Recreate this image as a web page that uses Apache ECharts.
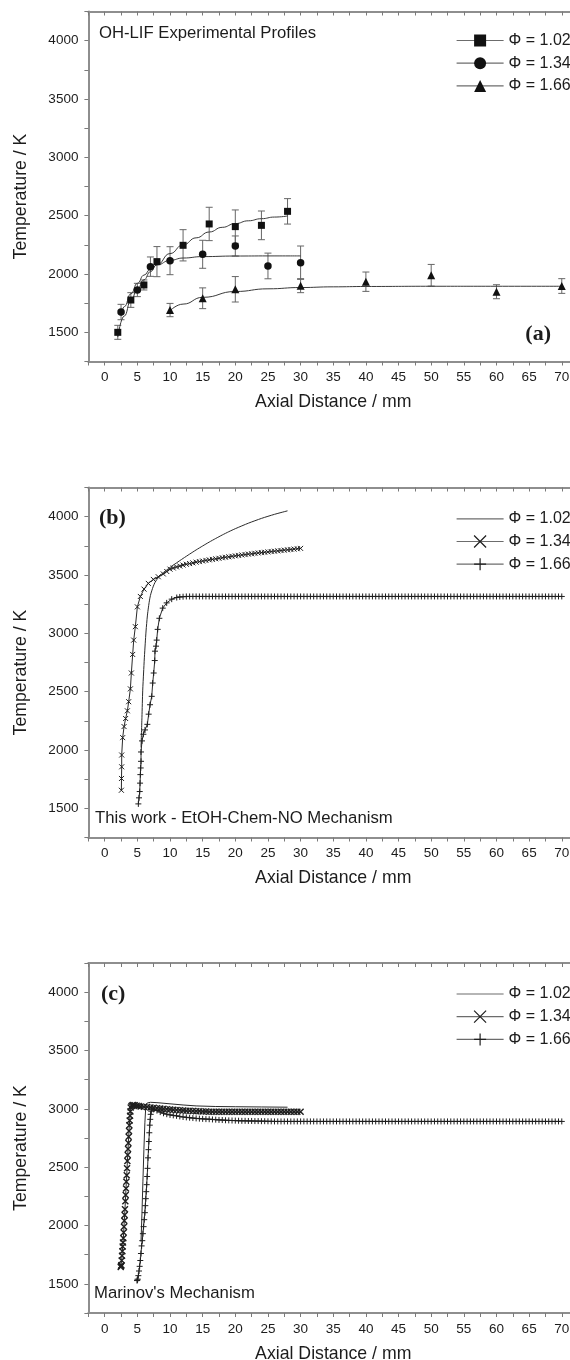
<!DOCTYPE html>
<html>
<head>
<meta charset="utf-8">
<script src="https://cdn.jsdelivr.net/npm/echarts@6/dist/echarts.min.js"></script>
<style>
  html, body { margin: 0; padding: 0; background: #ffffff; }
  #chart { width: 570px; height: 1360px; }
</style>
</head>
<body>
<div id="chart"></div>
<script>
// ---- Axis labels -------------------------------------------------------
const xTickLabels = [0, 5, 10, 15, 20, 25, 30, 35, 40, 45, 50, 55, 60, 65, 70];
const yTickLabels = [1500, 2000, 2500, 3000, 3500, 4000];
const phiLabels = ['Φ = 1.02', 'Φ = 1.34', 'Φ = 1.66'];

// ---- (a) OH-LIF experimental profiles: distance (mm), T (K), error (K) --
const distA102 = [2, 4, 6, 8, 12, 16, 20, 24, 28];
const tempA102 = [1500, 1777, 1906, 2106, 2246, 2429, 2406, 2417, 2537];
const errA102  = [60, 63, 43, 129, 134, 143, 143, 123, 109];

const distA134 = [2.5, 5, 7, 10, 15, 20, 25, 30];
const tempA134 = [1674, 1863, 2063, 2114, 2169, 2240, 2069, 2097];
const errA134  = [66, 57, 83, 120, 120, 86, 110, 143];

const distA166 = [10, 15, 20, 30, 40, 50, 60, 70];
const tempA166 = [1691, 1792, 1869, 1900, 1934, 1989, 1848, 1897];
const errA166  = [57, 89, 109, 60, 83, 93, 60, 63];

// fitted trend curves through the measurements
const fitA102 = [[2,1460],[3,1640],[4,1770],[5,1870],[6,1950],[7,2020],[8,2080],[10,2175],[12,2250],[14,2310],[16,2360],[18,2400],[20,2432],[22,2456],[24,2474],[26,2488],[28,2497]];
const fitA134 = [[2.5,1640],[3,1720],[4,1830],[5,1920],[6,1990],[7,2040],[8,2078],[10,2117],[12,2137],[15,2149],[20,2154],[25,2155],[30,2155]];
const fitA166 = [[10,1685],[12,1742],[15,1800],[20,1850],[25,1873],[30,1884],[35,1890],[40,1893],[50,1895],[60,1895],[70,1895]];

// ---- (b) EtOH-Chem-NO mechanism: [distance mm, T K] -------------------
const simB102 = [[5.56,2022],[5.7,2280],[5.82,2513],[5.95,2660],[6.07,2790],[6.2,2910],[6.33,3020],[6.53,3149],[6.7,3225],[6.84,3278],[7.0,3325],[7.2,3364],[7.45,3405],[7.7,3436],[8.0,3462],[8.47,3494],[9.0,3522],[9.5,3543],[10,3565],[11,3604],[12,3642],[13,3679],[14,3715],[15,3749],[16,3782],[17,3813],[18,3843],[19,3871],[20,3897],[22,3944],[24,3985],[26,4020],[28,4050]];

const simB134 = [[2.55,1655],[2.57,1756],[2.6,1856],[2.6,1957],[2.75,2106],[2.96,2201],[3.2,2270],[3.47,2336],[3.67,2414],[3.93,2524],[4.08,2660],[4.28,2819],[4.44,2942],[4.69,3057],[5.0,3227],[5.46,3316],[6.02,3379],[6.68,3428],[7.45,3462],[8.2,3485],[8.97,3509],
  [9.5,3530],[10,3550],[10.5,3560],[11,3569],[11.5,3577],[12,3585],[12.5,3592],[13,3598],[13.5,3604],[14,3610],[14.5,3615],[15,3620],[15.5,3625],[16,3630],[16.5,3634],[17,3639],[17.5,3643],[18,3648],[18.5,3652],[19,3656],[19.5,3660],[20,3664],[20.5,3668],[21,3672],[21.5,3675],[22,3679],[22.5,3682],[23,3686],[23.5,3689],[24,3692],[24.5,3695],[25,3698],[25.5,3701],[26,3704],[26.5,3707],[27,3710],[27.5,3713],[28,3716],[28.5,3719],[29,3722],[29.5,3725],[30,3728]];

const simB166 = [[5.15,1538],[5.25,1590],[5.36,1644],[5.41,1716],[5.46,1789],[5.51,1846],[5.56,1903],[5.56,1983],[5.71,2078],[5.92,2135],[6.17,2172],[6.53,2220],[6.73,2307],[6.94,2388],[7.2,2460],[7.35,2574],[7.5,2660],[7.66,2767],[7.7,2847],[7.86,2890],[7.96,2942],[8.11,3034],[8.37,3129],[8.88,3216],[9.49,3261],[10.26,3293],[11.03,3307],[11.5,3312],[12,3314],
  [12.5,3316],[13,3316],[13.5,3316],[14,3316],[14.5,3316],[15,3316],[15.5,3316],[16,3316],[16.5,3316],[17,3316],[17.5,3316],[18,3316],[18.5,3316],[19,3316],[19.5,3316],[20,3316],[20.5,3316],[21,3316],[21.5,3316],[22,3316],[22.5,3316],[23,3316],[23.5,3316],[24,3316],[24.5,3316],[25,3316],[25.5,3316],[26,3316],[26.5,3316],[27,3316],[27.5,3316],[28,3316],[28.5,3316],[29,3316],[29.5,3316],[30,3316],
  [30.5,3316],[31,3316],[31.5,3316],[32,3316],[32.5,3316],[33,3316],[33.5,3316],[34,3316],[34.5,3316],[35,3316],[35.5,3316],[36,3316],[36.5,3316],[37,3316],[37.5,3316],[38,3316],[38.5,3316],[39,3316],[39.5,3316],[40,3316],[40.5,3316],[41,3316],[41.5,3316],[42,3316],[42.5,3316],[43,3316],[43.5,3316],[44,3316],[44.5,3316],[45,3316],[45.5,3316],[46,3316],[46.5,3316],[47,3316],[47.5,3316],[48,3316],[48.5,3316],[49,3316],[49.5,3316],[50,3316],
  [50.5,3316],[51,3316],[51.5,3316],[52,3316],[52.5,3316],[53,3316],[53.5,3316],[54,3316],[54.5,3316],[55,3316],[55.5,3316],[56,3316],[56.5,3316],[57,3316],[57.5,3316],[58,3316],[58.5,3316],[59,3316],[59.5,3316],[60,3316],[60.5,3316],[61,3316],[61.5,3316],[62,3316],[62.5,3316],[63,3316],[63.5,3316],[64,3316],[64.5,3316],[65,3316],[65.5,3316],[66,3316],[66.5,3316],[67,3316],[67.5,3316],[68,3316],[68.5,3316],[69,3316],[69.5,3316],[70,3316]];

// ---- (c) Marinov's mechanism: [distance mm, T K] ----------------------
const simC102 = [[5.56,1862],[5.7,2100],[5.85,2380],[6.0,2650],[6.15,2880],[6.3,3030],[6.5,3050],[7,3056],[8,3053],[10,3043],[12,3033],[14,3025],[17,3020],[20,3018],[24,3016],[28,3014]];

const simC134 = [[2.45,1645],[2.5,1653],[2.55,1660],[2.6,1700],[2.65,1740],[2.7,1780],[2.75,1820],[2.8,1855],[2.85,1890],[2.9,1940],[2.95,1990],[3.0,2040],[3.05,2090],[3.1,2140],[3.16,2207],[3.21,2262],[3.26,2318],[3.31,2374],[3.37,2430],[3.42,2490],[3.47,2552],[3.52,2604],[3.57,2656],[3.62,2708],[3.67,2760],[3.72,2810],[3.77,2860],[3.82,2900],[3.88,2940],[3.93,2978],[3.98,3011],[4.1,3025],[4.25,3030],[4.38,3032],[4.6,3030],[4.9,3027],[5.2,3024],[5.5,3021],
  [6,3018],[6.5,3015],[7,3012],[7.5,3009],[8,3006],[8.5,3003],[9,3000],[9.5,2997],[10,2995],[10.5,2992],[11,2990],[11.5,2988],[12,2986],[12.5,2984],[13,2983],[13.5,2981],[14,2980],[14.5,2979],[15,2978],[15.5,2977],[16,2976],[16.5,2976],[17,2975],[17.5,2975],[18,2975],[18.5,2974],[19,2974],[19.5,2974],[20,2974],
  [20.5,2974],[21,2974],[21.5,2974],[22,2974],[22.5,2974],[23,2974],[23.5,2974],[24,2974],[24.5,2974],[25,2974],[25.5,2974],[26,2974],[26.5,2974],[27,2974],[27.5,2974],[28,2974],[28.5,2974],[29,2974],[29.5,2974],[30,2974]];

const simC166 = [[4.95,1528],[5.0,1532],[5.05,1540],[5.15,1570],[5.25,1610],[5.35,1650],[5.45,1700],[5.55,1760],[5.65,1825],[5.75,1870],[5.85,1930],[5.95,1990],[6.05,2050],[6.15,2110],[6.22,2170],[6.29,2230],[6.36,2290],[6.43,2350],[6.5,2420],[6.56,2490],[6.63,2580],[6.7,2650],[6.76,2720],[6.83,2795],[6.9,2860],[6.97,2910],[7.04,2953],[7.12,2980],[7.2,2997],
  [7.5,2995],[8,2985],[8.5,2972],[9,2962],[9.5,2954],[10,2948],[10.5,2944],[11,2940],[11.5,2935],[12,2930],[12.5,2927],[13,2924],[13.5,2921],[14,2918],[14.5,2916],[15,2914],[15.5,2912],[16,2911],[16.5,2909],[17,2907],[17.5,2905],[18,2904],[18.5,2902],[19,2901],[19.5,2900],[20,2899],[20.5,2898],[21,2897],[21.5,2897],[22,2896],[22.5,2896],[23,2895],[23.5,2895],[24,2894],[24.5,2894],[25,2893],[25.5,2893],[26,2892],
  [26.5,2892],[27,2892],[27.5,2892],[28,2892],[28.5,2892],[29,2892],[29.5,2892],[30,2892],[30.5,2892],[31,2892],[31.5,2892],[32,2892],[32.5,2892],[33,2892],[33.5,2892],[34,2892],[34.5,2892],[35,2892],[35.5,2892],[36,2892],[36.5,2892],[37,2892],[37.5,2892],[38,2892],[38.5,2892],[39,2892],[39.5,2892],[40,2892],
  [40.5,2892],[41,2892],[41.5,2892],[42,2892],[42.5,2892],[43,2892],[43.5,2892],[44,2892],[44.5,2892],[45,2892],[45.5,2892],[46,2892],[46.5,2892],[47,2892],[47.5,2892],[48,2892],[48.5,2892],[49,2892],[49.5,2892],[50,2892],
  [50.5,2892],[51,2892],[51.5,2892],[52,2892],[52.5,2892],[53,2892],[53.5,2892],[54,2892],[54.5,2892],[55,2892],[55.5,2892],[56,2892],[56.5,2892],[57,2892],[57.5,2892],[58,2892],[58.5,2892],[59,2892],[59.5,2892],[60,2892],
  [60.5,2892],[61,2892],[61.5,2892],[62,2892],[62.5,2892],[63,2892],[63.5,2892],[64,2892],[64.5,2892],[65,2892],[65.5,2892],[66,2892],[66.5,2892],[67,2892],[67.5,2892],[68,2892],[68.5,2892],[69,2892],[69.5,2892],[70,2892]];

// ---- Styling ------------------------------------------------------------
const FONT = '"Liberation Sans", Arial, Helvetica, sans-serif';
const SERIF = '"Liberation Serif", "Times New Roman", serif';
const AXIS_GREY = '#8e8e8e';
const INK = '#1c1c1c';
const CROSS = 'path://M0,0L10,10M10,0L0,10';
const PLUS = 'path://M5,0L5,10M0,5L10,5';

// three stacked panels share the same axis ranges
const panelTops = [11.5, 487.5, 963];
const PLOT_LEFT = 88.4, PLOT_W = 489.7, PLOT_H = 350;

const zip = (xs, ys) => xs.map((x, i) => [x, ys[i]]);

const grids = panelTops.map(t => ({
  left: PLOT_LEFT, top: t, width: PLOT_W, height: PLOT_H,
  outerBoundsMode: 'none', containLabel: false, show: false
}));

const xAxes = [];
const yAxes = [];
panelTops.forEach((t, i) => {
  xAxes.push({
    gridIndex: i, type: 'value', position: 'bottom',
    min: -2.5, max: 72.5, interval: 2.5,
    axisLine: { show: true, onZero: false, lineStyle: { color: AXIS_GREY, width: 2 } },
    axisTick: { show: true, length: 4, lineStyle: { color: '#7a7a7a', width: 1 } },
    axisLabel: {
      margin: 9, fontSize: 13.5, color: INK, fontFamily: FONT,
      formatter: v => xTickLabels.includes(v) ? String(v) : ''
    },
    splitLine: { show: false },
    name: 'Axial Distance / mm', nameLocation: 'middle', nameGap: 32,
    nameMoveOverlap: false,
    nameTextStyle: { fontSize: 17.7, color: INK, fontFamily: FONT }
  });
  xAxes.push({
    gridIndex: i, type: 'value', position: 'top',
    min: -2.5, max: 72.5, interval: 2.5,
    axisLine: { show: true, onZero: false, lineStyle: { color: AXIS_GREY, width: 2 } },
    axisTick: { show: true, inside: true, length: 4, lineStyle: { color: '#7a7a7a', width: 1 } },
    axisLabel: { show: false },
    splitLine: { show: false }
  });
  yAxes.push({
    gridIndex: i, type: 'value',
    min: 1250, max: 4250, interval: 250,
    axisLine: { show: true, onZero: false, lineStyle: { color: AXIS_GREY, width: 2 } },
    axisTick: { show: true, length: 4, lineStyle: { color: '#7a7a7a', width: 1 } },
    axisLabel: {
      margin: 10, fontSize: 13.5, color: INK, fontFamily: FONT,
      formatter: v => yTickLabels.includes(v) ? String(v) : ''
    },
    splitLine: { show: false },
    name: 'Temperature / K', nameLocation: 'middle', nameGap: 58,
    nameMoveOverlap: false,
    nameTextStyle: { fontSize: 17.7, color: INK, fontFamily: FONT, padding: [0, 20, 0, 0] }
  });
});

// vertical error bars with short caps
function errorBars(panel, xs, ts, es) {
  return {
    type: 'custom', xAxisIndex: panel * 2, yAxisIndex: panel, z: 3, silent: true,
    data: xs.map((x, i) => [x, ts[i] - es[i], ts[i] + es[i]]),
    encode: { x: 0, y: [1, 2] },
    renderItem(params, api) {
      const lo = api.coord([api.value(0), api.value(1)]);
      const hi = api.coord([api.value(0), api.value(2)]);
      const w = 3.5;
      const st = { stroke: '#666666', lineWidth: 1 };
      return {
        type: 'group', children: [
          { type: 'line', shape: { x1: lo[0], y1: lo[1], x2: hi[0], y2: hi[1] }, style: st },
          { type: 'line', shape: { x1: lo[0] - w, y1: lo[1], x2: lo[0] + w, y2: lo[1] }, style: st },
          { type: 'line', shape: { x1: hi[0] - w, y1: hi[1], x2: hi[0] + w, y2: hi[1] }, style: st }
        ]
      };
    }
  };
}

function measured(name, data, symbol, size) {
  return {
    name, type: 'line', xAxisIndex: 0, yAxisIndex: 0, data,
    symbol, symbolSize: size, showSymbol: true,
    lineStyle: { opacity: 0 }, itemStyle: { color: '#111111' }, z: 5, silent: true
  };
}

function fitCurve(data) {
  return {
    name: 'fit', type: 'line', xAxisIndex: 0, yAxisIndex: 0, data,
    symbol: 'none', smooth: true, smoothMonotone: 'x',
    lineStyle: { color: '#3a3a3a', width: 1 }, z: 4, silent: true
  };
}

function profile(name, panel, data, symbol, size, opts) {
  opts = opts || {};
  const s = {
    name, type: 'line', xAxisIndex: panel * 2, yAxisIndex: panel, data,
    lineStyle: { color: '#2a2a2a', width: 1 }, z: 4, silent: true
  };
  if (symbol) {
    s.symbol = symbol; s.symbolSize = size; s.showSymbol = true;
    s.itemStyle = { color: 'transparent', borderColor: '#1e1e1e', borderWidth: opts.stroke || 1 };
  } else {
    s.symbol = 'none';
    s.itemStyle = { color: '#2a2a2a' };
    if (opts.smooth) s.smooth = opts.smooth;
  }
  return s;
}

const series = [
  errorBars(0, distA102, tempA102, errA102),
  errorBars(0, distA134, tempA134, errA134),
  errorBars(0, distA166, tempA166, errA166),
  fitCurve(fitA102), fitCurve(fitA134), fitCurve(fitA166),
  measured('a|' + phiLabels[0], zip(distA102, tempA102), 'rect', 7),
  measured('a|' + phiLabels[1], zip(distA134, tempA134), 'circle', 7.5),
  measured('a|' + phiLabels[2], zip(distA166, tempA166), 'triangle', 8),

  profile('b|' + phiLabels[0], 1, simB102, null, 0, { smooth: 0.25 }),
  profile('b|' + phiLabels[1], 1, simB134, CROSS, 5),
  profile('b|' + phiLabels[2], 1, simB166, PLUS, 6),

  profile('c|' + phiLabels[0], 2, simC102, null, 0),
  profile('c|' + phiLabels[1], 2, simC134, CROSS, 6, { stroke: 1.4 }),
  profile('c|' + phiLabels[2], 2, simC166, PLUS, 6)
];

const markerStyle = { color: '#111111', borderWidth: 0, opacity: 1 };
const strokeStyle = { color: 'transparent', borderColor: '#1e1e1e', borderWidth: 1.2, opacity: 1 };
const noMarker = { color: 'transparent', borderColor: 'transparent', borderWidth: 0, opacity: 1 };

function legend(prefix, top, styles) {
  return {
    orient: 'vertical', left: 451, top,
    itemWidth: 47, itemHeight: 15, itemGap: 6.7,
    selectedMode: false,
    data: phiLabels.map((p, i) => ({ name: prefix + '|' + p, itemStyle: styles[i] })),
    formatter: n => n.split('|')[1],
    textStyle: { fontSize: 16, color: INK, fontFamily: FONT },
    lineStyle: { color: '#6c6c6c', width: 1.2, opacity: 1, type: 'solid' },
    itemStyle: { opacity: 1 }
  };
}

const texts = [
  { x: 99, y: 33, text: 'OH-LIF Experimental Profiles', size: 16.7, font: FONT, weight: 'normal', align: 'left' },
  { x: 551, y: 334, text: '(a)', size: 22, font: SERIF, weight: 'bold', align: 'right' },
  { x: 99, y: 518, text: '(b)', size: 22, font: SERIF, weight: 'bold', align: 'left' },
  { x: 95, y: 818, text: 'This work - EtOH-Chem-NO Mechanism', size: 16.7, font: FONT, weight: 'normal', align: 'left' },
  { x: 101, y: 994, text: '(c)', size: 22, font: SERIF, weight: 'bold', align: 'left' },
  { x: 94, y: 1293, text: "Marinov's Mechanism", size: 16.7, font: FONT, weight: 'normal', align: 'left' }
];

const chart = echarts.init(document.getElementById('chart'), null, { renderer: 'canvas' });
chart.setOption({
  backgroundColor: '#ffffff',
  animation: false,
  grid: grids,
  xAxis: xAxes,
  yAxis: yAxes,
  legend: [
    legend('a', 27.5, [markerStyle, markerStyle, markerStyle]),
    legend('b', 505.8, [noMarker, strokeStyle, strokeStyle]),
    legend('c', 981, [noMarker, strokeStyle, strokeStyle])
  ],
  tooltip: { show: false },
  graphic: texts.map(t => ({
    type: 'text', x: t.x, y: t.y, silent: true,
    style: {
      text: t.text, fontSize: t.size, fontFamily: t.font, fontWeight: t.weight,
      fill: INK, align: t.align, verticalAlign: 'middle'
    }
  })),
  series
});
</script>
</body>
</html>
